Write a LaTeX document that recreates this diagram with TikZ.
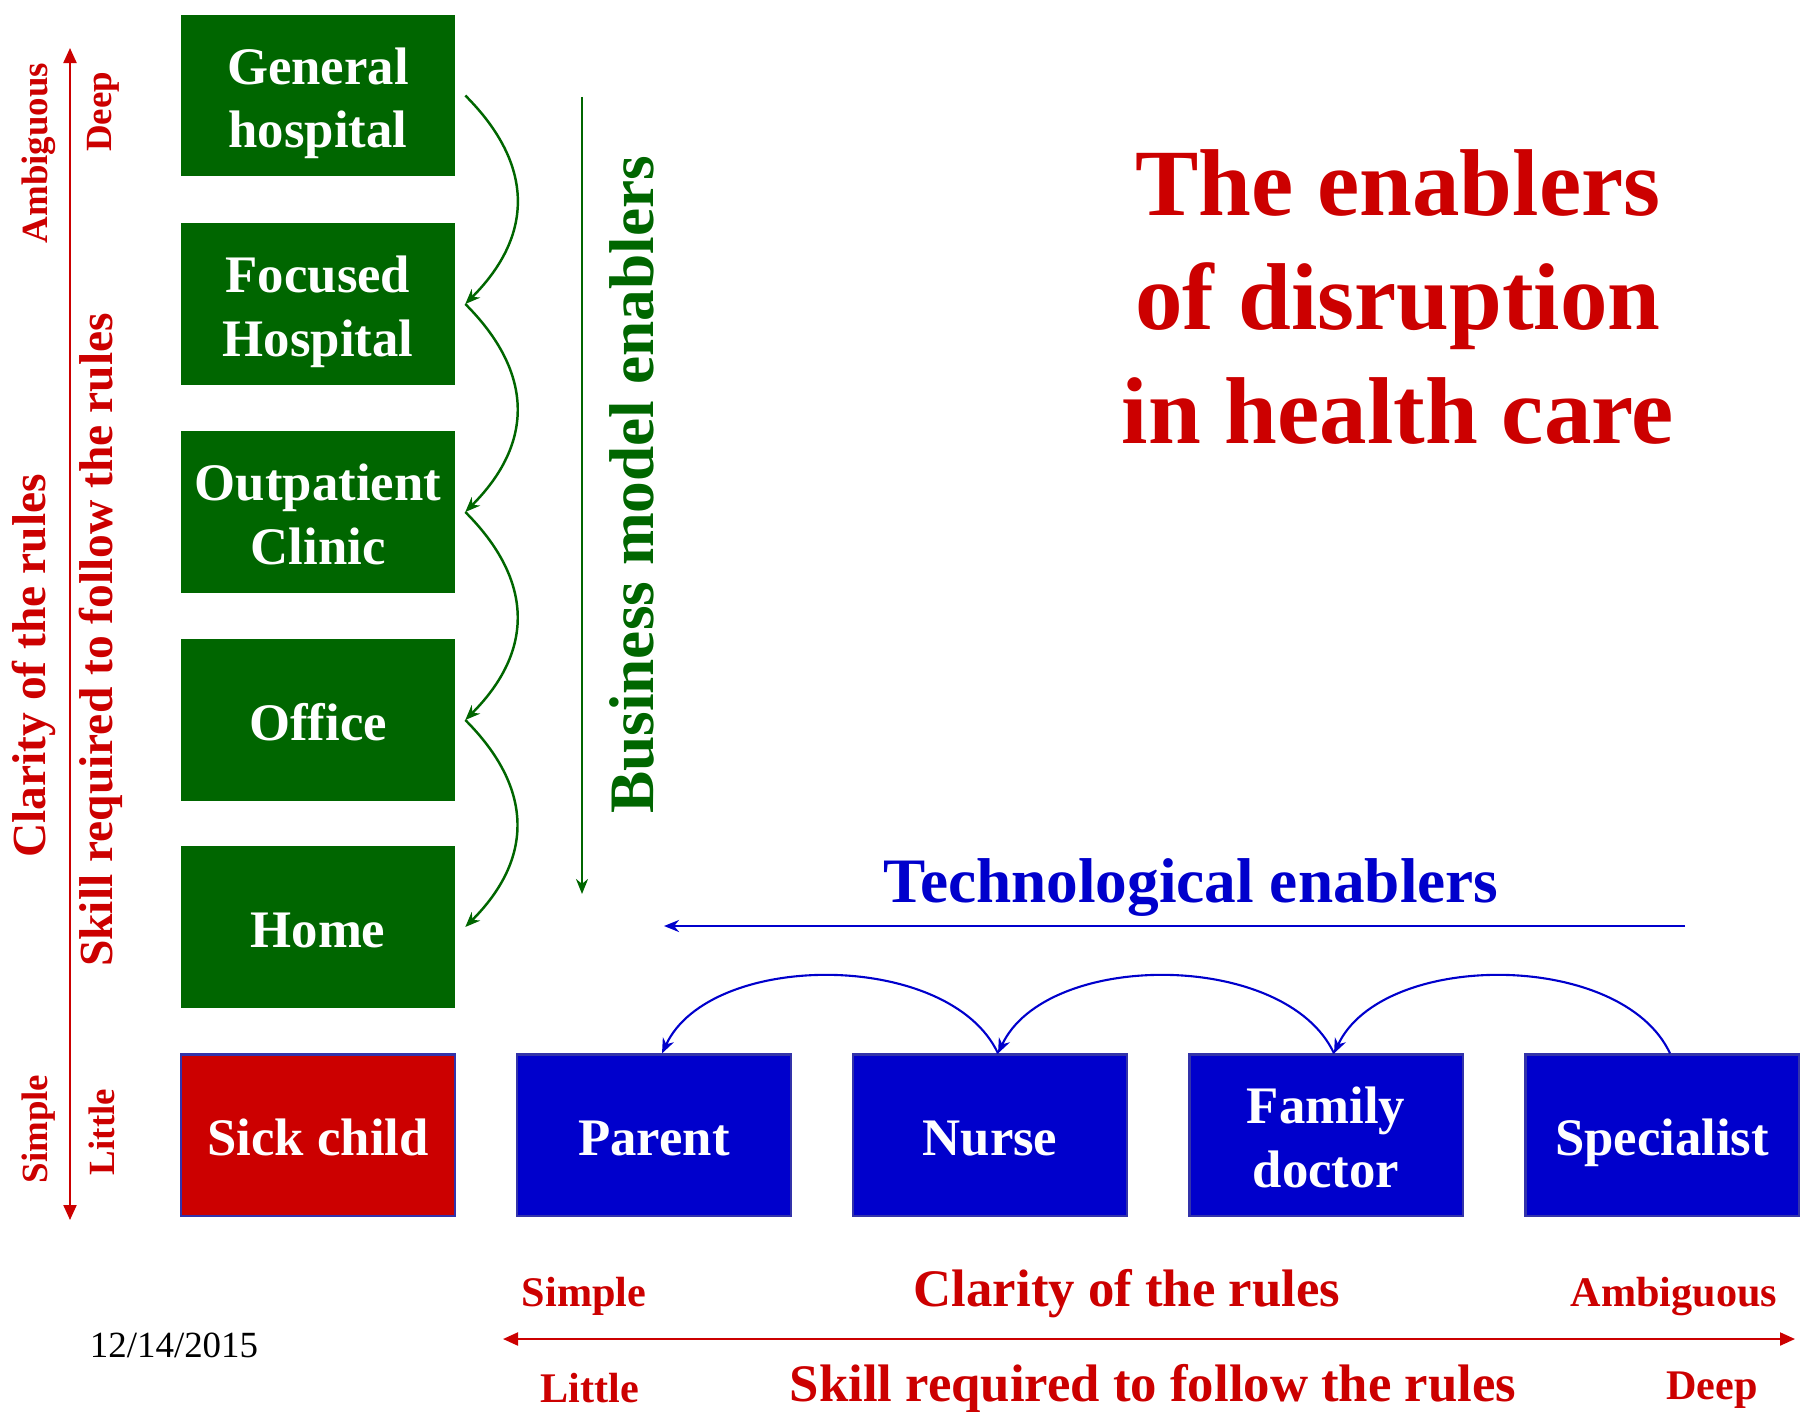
\documentclass[tikz,border=0pt]{standalone}
\usepackage{fontspec}
\setmainfont{Liberation Serif}
\usepackage{xcolor}
\usepackage{tikz}
\usetikzlibrary{arrows.meta}

\definecolor{dkgreen}{RGB}{0,102,0}
\definecolor{dkred}{RGB}{204,0,0}
\definecolor{dkblue}{RGB}{0,0,204}
\definecolor{edgeblue}{RGB}{51,51,170}

% struts so that two-line box texts sit like one-line ones
\newcommand{\topline}{\rule{0pt}{1em}}
\newcommand{\lowline}{\rule[-0.22em]{0pt}{0.22em}}

\tikzset{
	setting/.style={fill=dkgreen, text=white, minimum width=2.73cm, minimum height=1.61cm, inner sep=0pt, align=center, font=\fontsize{15}{18}\selectfont\bfseries},
	oneline/.style={text height=14.6pt, text depth=3pt},
	carer/.style={setting, fill=dkblue, draw=edgeblue, line width=0.6pt},
	patient/.style={setting, fill=dkred, draw=edgeblue, line width=0.6pt},
	axislbl/.style={text=dkred, inner sep=0pt, font=\fontsize{10.5}{12}\selectfont\bfseries},
	axistitle/.style={text=dkred, inner sep=0pt, font=\fontsize{13.5}{16}\selectfont\bfseries},
	bottomlbl/.style={text=dkred, inner sep=0pt, font=\fontsize{12}{14}\selectfont\bfseries},
	bottomtitle/.style={text=dkred, inner sep=0pt, font=\fontsize{15}{18}\selectfont\bfseries},
	bizflow/.style={draw=dkgreen, line width=0.7pt, -{Stealth[length=1.5mm,width=1.2mm]}},
	techflow/.style={draw=dkblue, line width=0.6pt, -{Stealth[length=1.5mm,width=1.2mm]}},
	redaxis/.style={draw=dkred, line width=0.6pt, {Triangle[length=1.5mm,width=1.3mm]}-{Triangle[length=1.5mm,width=1.3mm]}},
}

\begin{document}
\begin{tikzpicture}[x=0.01cm, y=0.01cm]

\useasboundingbox (0,0) rectangle (1804,1411);

% sites of care
\foreach \name/\txt/\y in {gen/{\topline General\\hospital\lowline}/1315.5, foc/{\topline Focused\\Hospital\lowline}/1107, outp/{\topline Outpatient\\Clinic\lowline}/899}{
	\node[setting] (\name) at (318,\y) {\txt};
}
\node[setting, oneline] (off) at (318,691) {Office};
\node[setting, oneline] (hom) at (318,484) {Home};
\node[patient, oneline] (sick) at (318,276) {Sick child};

% caregivers
\node[carer, oneline] (parent) at (654,276) {Parent};
\node[carer, oneline] (nurse) at (990,276) {Nurse};
\node[carer] (famdoc) at (1326,276) {\topline Family\\doctor\lowline};
\node[carer, oneline] (spec) at (1662,276) {Specialist};

% business model shifts
\foreach \a/\b in {gen/foc, foc/outp, outp/off, off/hom}{
	\draw[bizflow] ([xshift=1mm]\a.east) to[out=-45, in=45, looseness=1.2] ([xshift=1mm]\b.east);
}

% technology shifts
\foreach \a/\b in {spec/famdoc, famdoc/nurse, nurse/parent}{
	\draw[techflow] ([xshift=0.8mm]\a.north) to[out=115, in=65, looseness=0.87] ([xshift=0.8mm]\b.north);
}

% green enabler arrow
\coordinate (biztop) at (582,1314);
\coordinate (bizbot) at (582,517);
\draw[bizflow] (biztop)--(bizbot);
\node[text=dkgreen, rotate=90, font=\fontsize{18}{21}\selectfont\bfseries] (biztxt) at (632,926) {Business model enablers};

% blue enabler arrow
\coordinate (techright) at (1685,485);
\coordinate (techleft) at (664,485);
\draw[techflow, line width=0.8pt] (techright)--(techleft);
\node[text=dkblue, font=\fontsize{18}{21}\selectfont\bfseries] (techtxt) at (1191,523) {Technological enablers};

% title
\node[text=dkred, align=center, font=\fontsize{27}{32.5}\selectfont\bfseries] (title) at (1398,1114) {The enablers\\of disruption\\in health care};

% vertical axis
\coordinate (vtop) at (70,1363);
\coordinate (vbot) at (70,191);
\draw[redaxis] (vbot)--(vtop);
\node[axislbl, rotate=90] (vamb) at (39,1258) {Ambiguous};
\node[axislbl, rotate=90] (vdeep) at (103,1299) {Deep};
\node[axistitle, rotate=90] (vclar) at (34,745) {Clarity of the rules};
\node[axistitle, rotate=90] (vskill) at (101,771) {Skill required to follow the rules};
\node[axislbl, rotate=90] (vsimp) at (39,282) {Simple};
\node[axislbl, rotate=90] (vlit) at (102,279) {Little};

% horizontal axis
\coordinate (hleft) at (503,72);
\coordinate (hright) at (1795,72);
\draw[redaxis] (hleft)--(hright);
\node[bottomlbl] (hsimp) at (584,115) {Simple};
\node[bottomtitle] (hclar) at (1127,117) {Clarity of the rules};
\node[bottomlbl] (hamb) at (1674,115) {Ambiguous};
\node[bottomlbl] (hlit) at (590,23) {Little};
\node[bottomtitle] (hskill) at (1153,22) {Skill required to follow the rules};
\node[bottomlbl] (hdeep) at (1712,21) {Deep};

% date
\node[font=\fontsize{10.5}{12}\selectfont] (date) at (174,66) {12/14/2015};

\end{tikzpicture}
\end{document}
